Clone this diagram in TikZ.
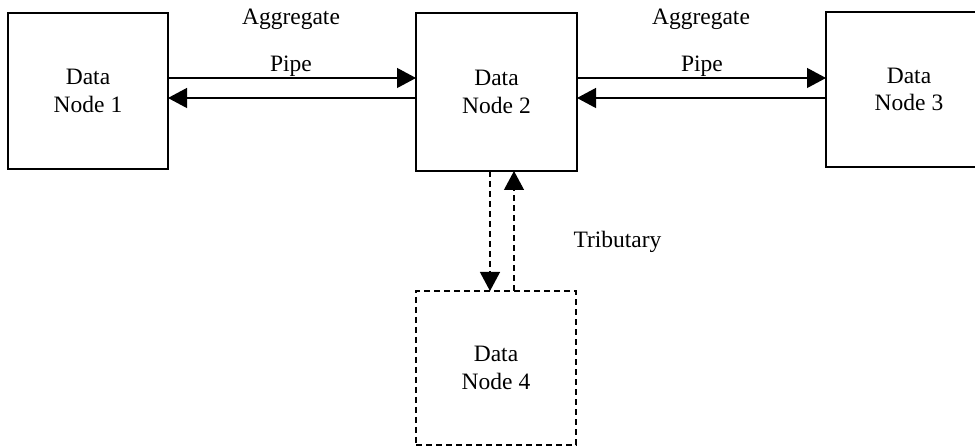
\documentclass[tikz,border=0pt]{standalone}
\usepackage{fontspec}
\setmainfont{Liberation Serif}
\usetikzlibrary{arrows.meta}
\usetikzlibrary{positioning}

\tikzset{
databox/.style={draw,line width=1.2pt,minimum width=#1,align=center,inner sep=0pt,outer sep=0pt,font=\fontsize{23.5}{27.5}\selectfont},
linkarrow/.style={line width=1.2pt,-{Triangle[length=19pt,width=20pt]}},
tribarrow/.style={linkarrow,dash pattern=on 6pt off 4pt},
lbl/.style={font=\fontsize{23.5}{27.5}\selectfont,anchor=base}
}

\begin{document}
\begin{tikzpicture}[x=1pt,y=1pt]
\useasboundingbox (0,0) rectangle (975,447);
\node[databox=160pt,minimum height=156pt] (n1) at (88,356) {Data\\Node 1};
\node[databox=161pt,minimum height=158pt] (n2) at (496.5,355) {Data\\Node 2};
\node[databox=166pt,minimum height=155pt] (n3) at (909,357.5) {Data\\Node 3};
\node[databox=160pt,minimum height=154pt,dash pattern=on 6pt off 4pt] (n4) at (496,79) {Data\\Node 4};

\draw[linkarrow] ([yshift=13pt]n1.east) -- ([yshift=13pt]n1.east -| n2.west);
\draw[linkarrow] ([yshift=-7pt]n1.east -| n2.west) -- ([yshift=-7pt]n1.east);
\draw[linkarrow] ([yshift=14pt]n2.east) -- ([yshift=14pt]n2.east -| n3.west);
\draw[linkarrow] ([yshift=-6pt]n2.east -| n3.west) -- ([yshift=-6pt]n2.east);

\draw[tribarrow] ([xshift=-6.5pt]n2.south) -- ([xshift=-6.5pt]n2.south |- n4.north);
\draw[tribarrow] ([xshift=17.5pt]n2.south |- n4.north) -- ([xshift=17.5pt]n2.south);

\node[lbl] (agg1) at (291,422) {Aggregate};
\node[lbl] (pipe1) at (291,375) {Pipe};
\node[lbl] (agg2) at (701,422) {Aggregate};
\node[lbl] (pipe2) at (702,375) {Pipe};
\node[lbl,anchor=base west] (trib) at (570,199) {Tributary};

\end{tikzpicture}
\end{document}
